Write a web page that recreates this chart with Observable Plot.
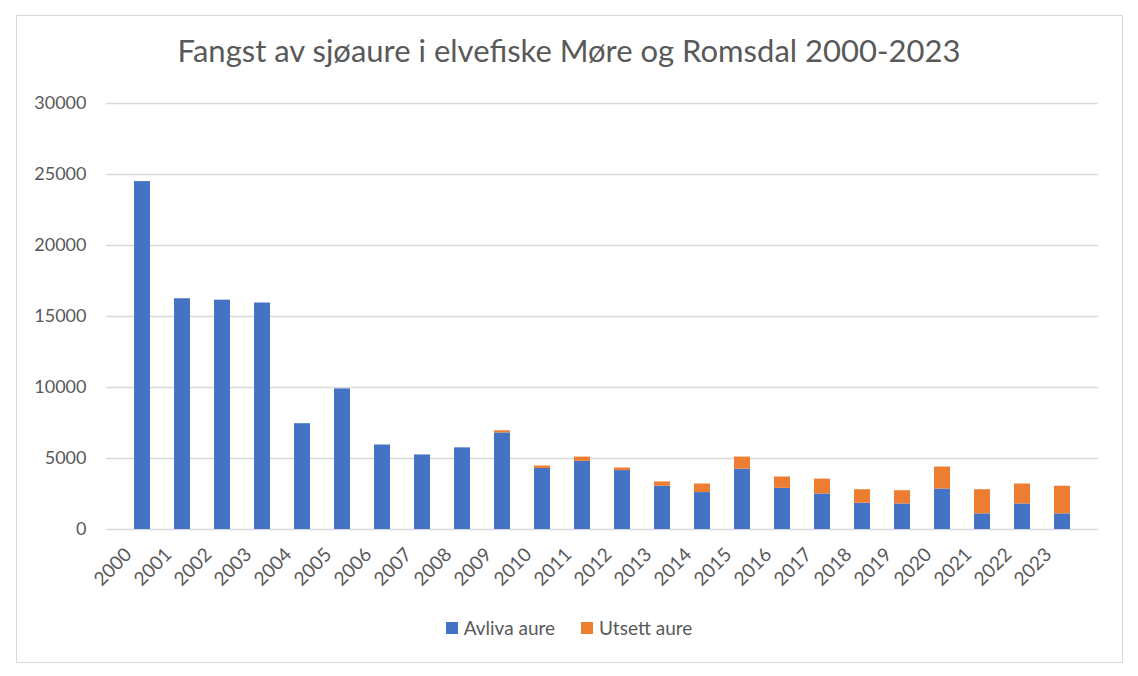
<!DOCTYPE html>
<html>
<head>
<meta charset="utf-8">
<script src="https://cdn.jsdelivr.net/npm/d3@7"></script>
<script src="https://cdn.jsdelivr.net/npm/@observablehq/plot@0.6"></script>
<style>
  html, body { margin: 0; padding: 0; background: #fff; }
  body { width: 1138px; height: 676px; position: relative; overflow: hidden; font-family: Lato, "Open Sans", sans-serif; }
  #frame { position: absolute; left: 16px; top: 15px; width: 1105px; height: 646px; border: 1px solid #d9d9d9; box-sizing: content-box; }
  #title { position: absolute; left: 0; width: 1138px; top: 31px; text-align: center; font-size: 31px; color: #595959; }
  #chart { position: absolute; left: 0; top: 0; }
  #legend { position: absolute; top: 616px; left: 0; width: 1138px; display: flex; justify-content: center; gap: 26px; font-size: 19px; color: #595959; }
  .item { display: flex; align-items: center; gap: 6px; }
  .sw { width: 12px; height: 12px; display: inline-block; }
</style>
</head>
<body>
<div id="frame"></div>
<div id="title">Fangst av sjøaure i elvefiske Møre og Romsdal 2000-2023</div>
<div id="chart"></div>
<div id="legend"></div>
<script>
const years = ["2000","2001","2002","2003","2004","2005","2006","2007","2008","2009","2010","2011","2012","2013","2014","2015","2016","2017","2018","2019","2020","2021","2022","2023"];
const avliva = [24500,16250,16150,15950,7450,9900,5950,5250,5750,6800,4300,4800,4150,3050,2600,4250,2900,2500,1850,1800,2850,1100,1800,1100];
const utsett = [0,0,0,0,0,0,0,0,0,150,170,300,180,300,600,850,800,1050,950,930,1550,1700,1400,1950];
const seriesNames = ["Avliva aure", "Utsett aure"];
const seriesColors = ["#4472C4", "#ED7D31"];
const yTicks = [0,5000,10000,15000,20000,25000,30000];

const data = [];
years.forEach((y, i) => {
  data.push({year: y, series: seriesNames[0], value: avliva[i]});
  data.push({year: y, series: seriesNames[1], value: utsett[i]});
});

const chart = Plot.plot({
  width: 1138,
  height: 620,
  marginTop: 103,
  marginLeft: 106,
  marginRight: 40,
  marginBottom: 91,
  style: {fontFamily: "Lato, 'Open Sans', sans-serif", fontSize: "18px", color: "#595959", background: "transparent"},
  x: {domain: years, padding: 0.6, label: null},
  y: {domain: [0, 30000], label: null},
  color: {domain: seriesNames, range: seriesColors},
  marks: [
    Plot.ruleY(yTicks, {stroke: "#d9d9d9", strokeWidth: 1.3}),
    Plot.barY(data, {x: "year", y: "value", fill: "series", order: seriesNames}),
    Plot.axisY({ticks: yTicks, tickSize: 0, tickPadding: 20, tickFormat: d => String(d), fill: "#595959", label: null}),
    Plot.axisX({tickSize: 0, tickRotate: -45, tickPadding: 8, dx: -14, dy: 14, fontSize: 19, fill: "#595959", label: null})
  ]
});
document.getElementById("chart").appendChild(chart);

const legend = document.getElementById("legend");
seriesNames.forEach((n, i) => {
  const it = document.createElement("div");
  it.className = "item";
  const sw = document.createElement("span");
  sw.className = "sw";
  sw.style.background = seriesColors[i];
  const t = document.createElement("span");
  t.textContent = n;
  it.appendChild(sw); it.appendChild(t);
  legend.appendChild(it);
});
</script>
</body>
</html>
